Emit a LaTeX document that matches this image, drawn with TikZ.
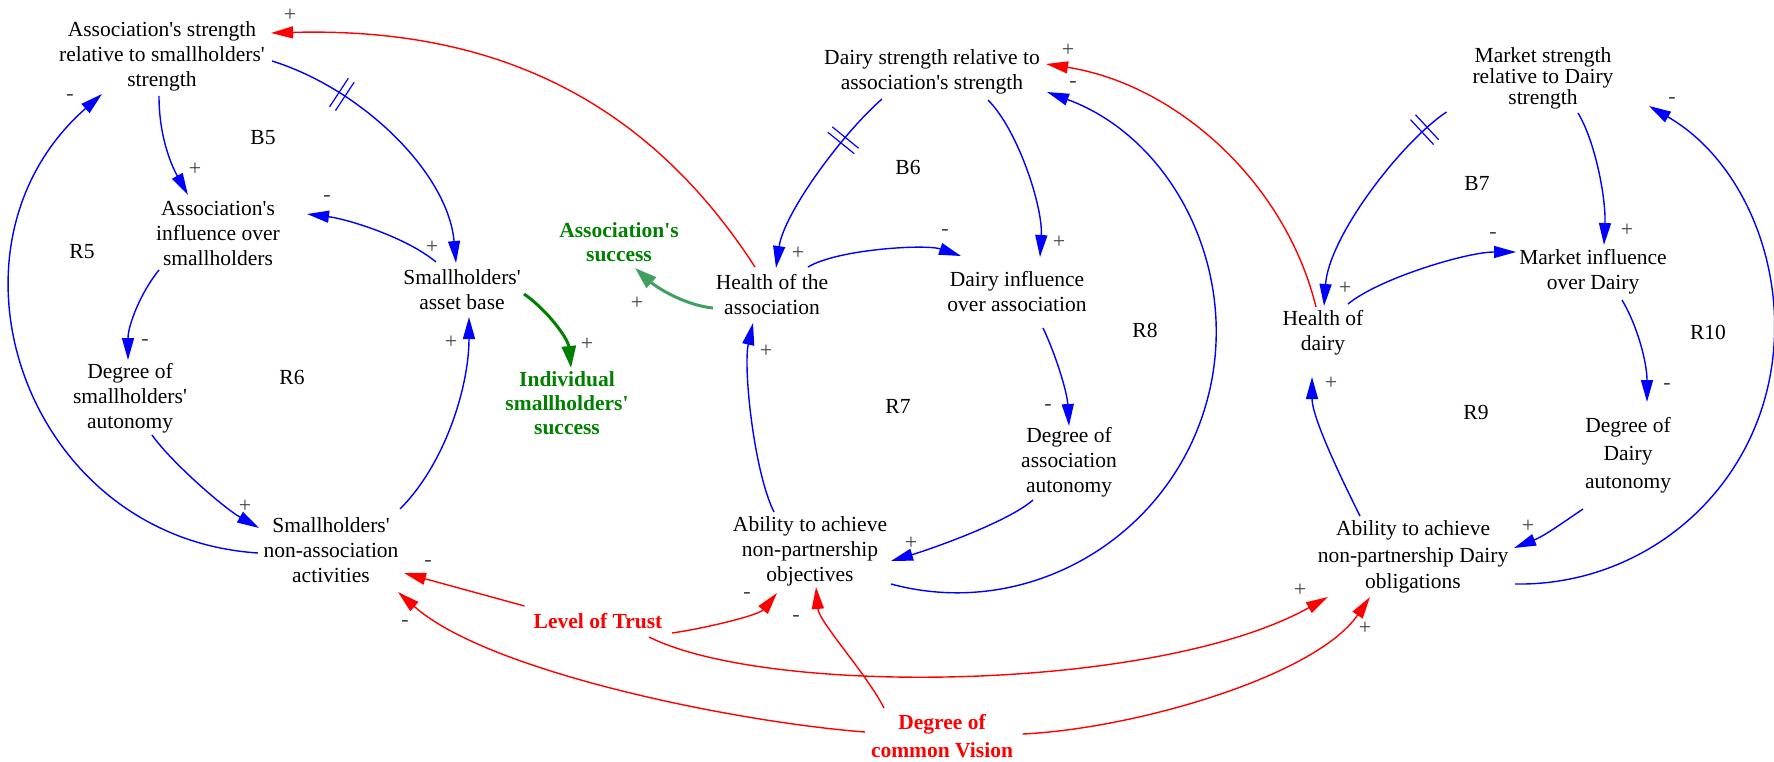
\documentclass[tikz,border=0pt]{standalone}
\usepackage{fontspec}
\setmainfont{Liberation Serif}
\usetikzlibrary{arrows.meta,decorations.markings}
\definecolor{cblue}{RGB}{0,0,255}
\definecolor{cred}{RGB}{255,0,0}
\definecolor{dgreen}{RGB}{0,128,0}
\definecolor{lgreen}{RGB}{64,160,96}
\newcommand{\ap}{\textquotesingle}
\begin{document}
\begin{tikzpicture}[x=1pt,y=-1pt,
  lbl/.style={align=center, inner sep=0pt, font=\fontsize{21.5}{25}\selectfont},
  gtxt/.style={align=center, inner sep=0pt, text=dgreen, font=\fontsize{21.5}{24}\selectfont\bfseries},
  rtxt/.style={align=center, inner sep=0pt, text=cred, font=\fontsize{21.5}{28}\selectfont\bfseries},
  sgn/.style={inner sep=0pt, text=black!75, font=\fontsize{22}{22}\selectfont},
  loopl/.style={inner sep=0pt, font=\fontsize{21.5}{25}\selectfont},
  bl/.style={draw=cblue, line width=1.4pt, -{Triangle[length=22pt,width=12pt]}},
  rd/.style={draw=cred, line width=1.4pt, -{Triangle[length=22pt,width=12pt]}},
  gr/.style={draw=dgreen, line width=3pt, -{Triangle[length=22pt,width=14pt]}},
  lg/.style={draw=lgreen, line width=3pt, -{Triangle[length=22pt,width=14pt]}},
  dbar/.style={postaction={decorate}, decoration={markings, mark=at position #1 with {\draw[cblue, line width=1.2pt, -] (-3.5,-17)--(-3.5,17) (3.5,-17)--(3.5,17);}}}
]
\useasboundingbox (0,0) rectangle (1774,762);

% variables
\node[lbl] (A1) at (162,56) {Association\ap s strength\\relative to smallholders\ap\\strength};
\node[lbl] (AI) at (218,233) {Association\ap s\\influence over\\smallholders};
\node[lbl] (DS) at (130,398) {Degree of\\smallholders\ap\\autonomy};
\node[lbl] (NA) at (331,550) {Smallholders\ap\\non-association\\activities};
\node[lbl] (AB) at (462,290) {Smallholders\ap\\asset base};
\node[gtxt] (IS) at (567,403) {Individual\\smallholders\ap\\success};
\node[gtxt] (AS) at (619,242) {Association\ap s\\success};
\node[lbl] (HA) at (772,295) {Health of the\\association};
\node[lbl] (DR) at (932,72) {Dairy strength relative to\\association\ap s strength};
\node[lbl] (DI) at (1017,292) {Dairy influence\\over association};
\node[lbl] (DA) at (1069,462) {Degree of\\association\\autonomy};
\node[lbl] (AO) at (810,551) {Ability to achieve\\non-partnership\\objectives};
\node[lbl, font=\fontsize{21.5}{21}\selectfont] (MS) at (1543,78) {Market strength\\relative to Dairy\\strength};
\node[lbl] (MI) at (1593,272) {Market influence\\over Dairy};
\node[lbl] (HD) at (1323,333) {Health of\\dairy};
\node[lbl, font=\fontsize{21.5}{28}\selectfont] (DD) at (1628,455) {Degree of\\Dairy\\autonomy};
\node[lbl, font=\fontsize{21.5}{26.5}\selectfont] (AD) at (1413,557) {Ability to achieve\\non-partnership Dairy\\obligations};
\node[rtxt] (LT) at (598,621) {Level of Trust};
\node[rtxt] (CV) at (942,736) {Degree of\\common Vision};

% loop labels
\node[loopl] (B5) at (263,138) {B5};
\node[loopl] (R5) at (82,252) {R5};
\node[loopl] (R6) at (292,377) {R6};
\node[loopl] (B6) at (908,167) {B6};
\node[loopl] (R7) at (898,406) {R7};
\node[loopl] (R8) at (1145,330) {R8};
\node[loopl] (B7) at (1477,183) {B7};
\node[loopl] (R9) at (1476,412) {R9};
\node[loopl] (R10) at (1708,332) {R10};

% connectors
\draw[bl] ([shift={(-3,40)}]A1.center) .. controls +(0,45) and +(-14,-25) .. ([shift={(-30,-38)}]AI.center);
\draw[bl, dbar=0.27] ([shift={(110,5)}]A1.center) .. controls +(90,28) and +(-8,-90) .. ([shift={(-6,-27)}]AB.center);
\draw[bl] ([shift={(-26,-28)}]AB.center) .. controls +(-30,-25) and +(40,5) .. ([shift={(89,-19)}]AI.center);
\draw[bl] ([shift={(-59,37)}]AI.center) .. controls +(-18,22) and +(0,-35) .. ([shift={(-2,-38)}]DS.center);
\draw[bl] ([shift={(22,37)}]DS.center) .. controls +(20,28) and +(-35,-20) .. ([shift={(-72,-22)}]NA.center);
\draw[bl] ([shift={(-73,3)}]NA.center) .. controls +(-233,-15) and +(-175,154) .. ([shift={(-60,38)}]A1.center);
\draw[bl] ([shift={(69,-41)}]NA.center) .. controls +(45,-45) and +(0,70) .. ([shift={(7,27)}]AB.center);
\draw[gr] ([shift={(62,4)}]AB.center) .. controls +(22,15) and +(-3,-30) .. ([shift={(4,-35)}]IS.center);
\draw[lg] ([shift={(-59,13)}]HA.center) .. controls +(-30,-3) and +(20,18) .. ([shift={(16,26)}]AS.center);
\draw[rd] ([shift={(-17,-28)}]HA.center) .. controls +(-110,-170) and +(220,-6) .. ([shift={(109,-23)}]A1.center);
\draw[bl, dbar=0.28] ([shift={(-50,27)}]DR.center) .. controls +(-40,35) and +(8,-55) .. ([shift={(4,-27)}]HA.center);
\draw[bl] ([shift={(56,28)}]DR.center) .. controls +(30,30) and +(3,-50) .. ([shift={(23,-35)}]DI.center);
\draw[bl] ([shift={(36,-28)}]HA.center) .. controls +(30,-18) and +(-35,-12) .. ([shift={(-56,-36)}]DI.center);
\draw[bl] ([shift={(26,36)}]DI.center) .. controls +(12,25) and +(-2,-35) .. ([shift={(0,-36)}]DA.center);
\draw[bl] ([shift={(-36,38)}]DA.center) .. controls +(-25,22) and +(40,-12) .. ([shift={(81,10)}]AO.center);
\draw[bl] ([shift={(-36,-39)}]AO.center) .. controls +(-20,-40) and +(-10,45) .. ([shift={(-19,28)}]HA.center);
\draw[bl] ([shift={(81,33)}]AO.center) .. controls +(133,36) and +(-41.6,131.4) .. (1204,411) .. controls +(41.6,-131.4) and +(129.4,47.5) .. ([shift={(115,20)}]DR.center);
\draw[rd] ([shift={(-7,-26)}]HD.center) .. controls +(-31,-126) and +(129,20) .. ([shift={(114,-8)}]DR.center);
\draw[bl, dbar=0.12] ([shift={(-96.5,34)}]MS.center) .. controls +(-45,30) and +(5,-70) .. ([shift={(1,-27)}]HD.center);
\draw[bl] ([shift={(35,35)}]MS.center) .. controls +(18,30) and +(2,-45) .. ([shift={(11,-27)}]MI.center);
\draw[bl] ([shift={(25,-29)}]HD.center) .. controls +(30,-25) and +(-50,0) .. ([shift={(-77,-20)}]MI.center);
\draw[bl] ([shift={(29,28)}]MI.center) .. controls +(15,25) and +(0,-40) .. ([shift={(19,-53)}]DD.center);
\draw[bl] ([shift={(-45,54)}]DD.center) .. controls +(-25,17) and +(30,-12) .. ([shift={(101,-9)}]AD.center);
\draw[bl] ([shift={(-53,-41)}]AD.center) .. controls +(-20,-40) and +(0,40) .. ([shift={(-11,44)}]HD.center);
\draw[bl] ([shift={(102,27)}]AD.center) .. controls +(116,2) and +(-31,111.7) .. (1765,398) .. controls +(31,-111.7) and +(100.4,58) .. ([shift={(106,28)}]MS.center);
\draw[rd] ([shift={(-73.5,-15)}]LT.center) -- ([shift={(73,23)}]NA.center);
\draw[rd] ([shift={(-77,-4)}]CV.center) .. controls +(-130,-10) and +(90,80) .. ([shift={(67,42)}]NA.center);
\draw[rd] ([shift={(74,12)}]LT.center) .. controls +(35,-5) and +(-18,22) .. ([shift={(-33,42)}]AO.center);
\draw[rd] ([shift={(51,16)}]LT.center) .. controls +(120,60) and +(-170,95) .. ([shift={(-85,40)}]AD.center);
\draw[rd] ([shift={(-58,-28)}]CV.center) .. controls +(-18,-35) and +(3,35) .. ([shift={(6,36)}]AO.center);
\draw[rd] ([shift={(80.5,-2)}]CV.center) .. controls +(110,-5) and +(-55,80) .. ([shift={(-43,40)}]AD.center);

% polarity signs
\node[sgn] (s1) at (290,15) {+};
\node[sgn] (s2) at (70,97) {-};
\node[sgn] (s3) at (195,169) {+};
\node[sgn] (s4) at (327,198) {-};
\node[sgn] (s5) at (432,247) {+};
\node[sgn] (s6) at (145,342) {-};
\node[sgn] (s7) at (451,342) {+};
\node[sgn] (s8) at (587,344) {+};
\node[sgn] (s9) at (245,506) {+};
\node[sgn] (s10) at (428,563) {-};
\node[sgn] (s11) at (405,623) {-};
\node[sgn] (s12) at (637,303) {+};
\node[sgn] (s13) at (798,253) {+};
\node[sgn] (s14) at (945,232) {-};
\node[sgn] (s15) at (1059,242) {+};
\node[sgn] (s16) at (1068,50) {+};
\node[sgn] (s17) at (1073,84) {-};
\node[sgn] (s18) at (766,351) {+};
\node[sgn] (s19) at (1048,407) {-};
\node[sgn] (s20) at (911,543) {+};
\node[sgn] (s21) at (747,595) {-};
\node[sgn] (s22) at (796,618) {-};
\node[sgn] (s23) at (1345,288) {+};
\node[sgn] (s24) at (1493,235) {-};
\node[sgn] (s25) at (1627,230) {+};
\node[sgn] (s26) at (1672,100) {-};
\node[sgn] (s27) at (1331,383) {+};
\node[sgn] (s28) at (1667,386) {-};
\node[sgn] (s29) at (1528,526) {+};
\node[sgn] (s30) at (1300,590) {+};
\node[sgn] (s31) at (1365,628) {+};
\end{tikzpicture}
\end{document}
